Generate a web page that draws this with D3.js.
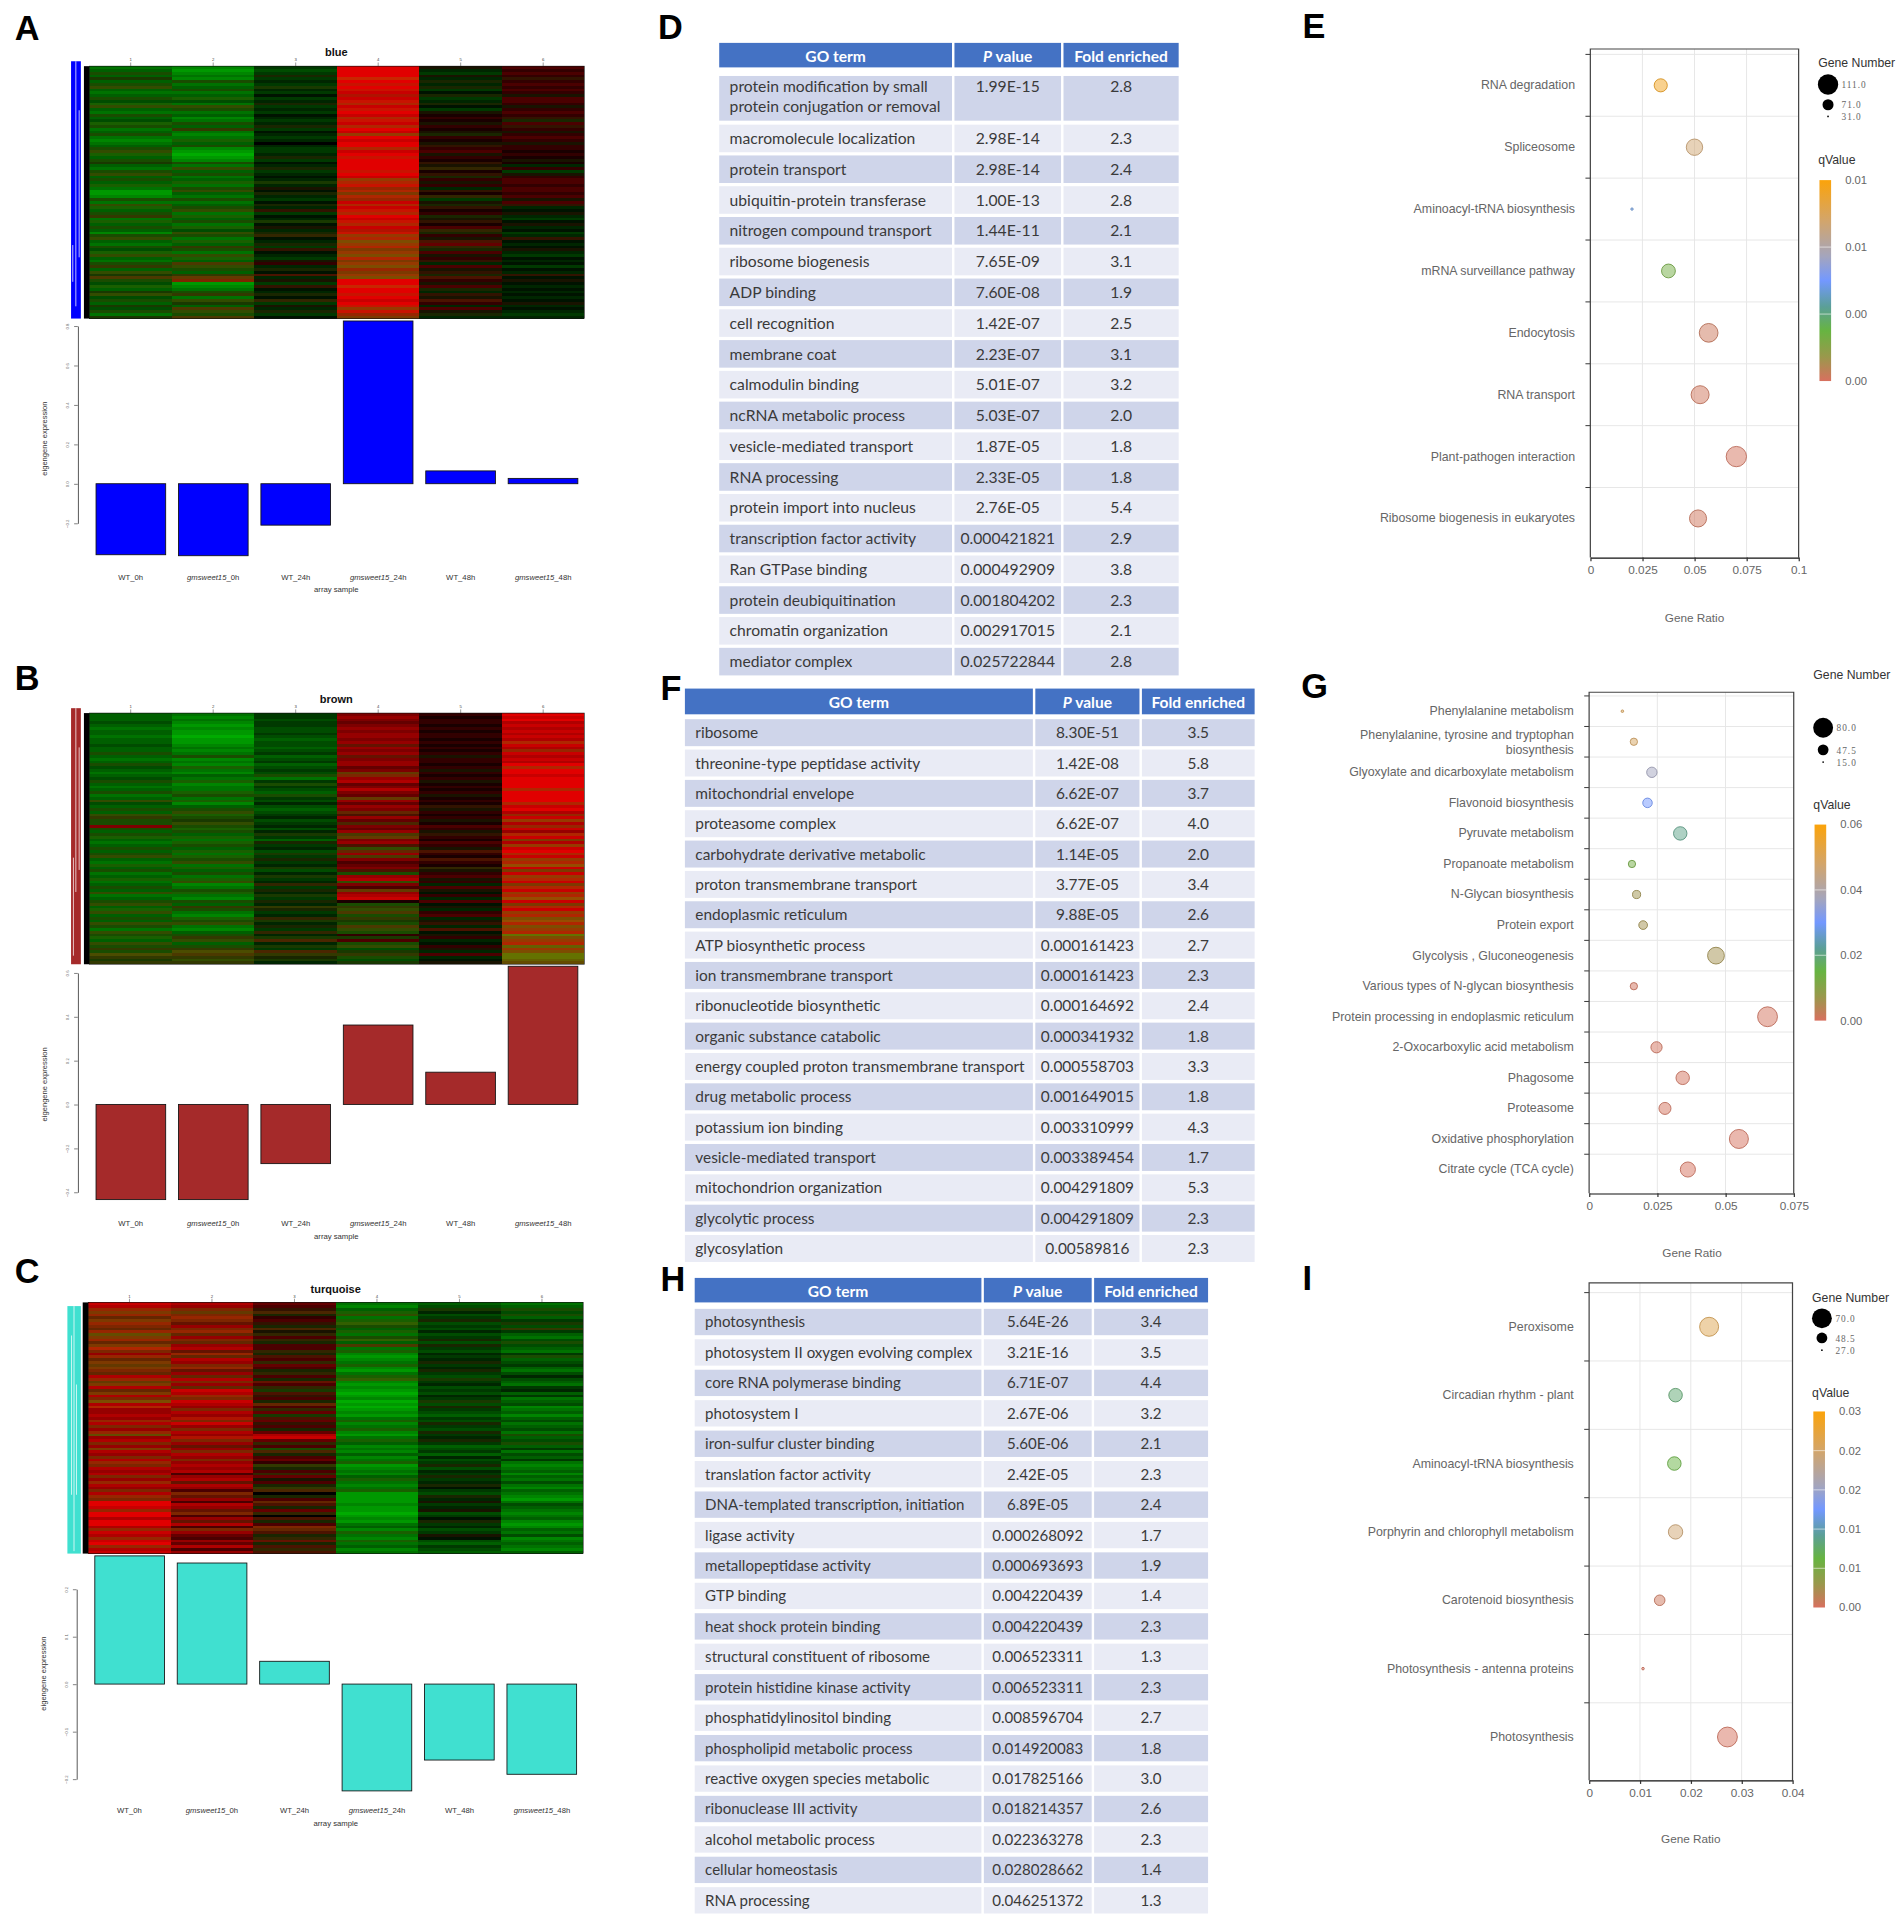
<!DOCTYPE html>
<html><head><meta charset="utf-8">
<script src="https://cdn.jsdelivr.net/npm/d3@7/dist/d3.min.js"></script>
<style>html,body{margin:0;padding:0;background:#fff}svg{display:block}</style></head>
<body><div id="c"></div>
<script>
const sampleLabels=["WT_0h","gmsweet15_0h","WT_24h","gmsweet15_24h","WT_48h","gmsweet15_48h"];
// Bars: module eigengene expression
const barsBlue=[-0.36,-0.365,-0.21,0.825,0.065,0.027];
const barsBrown=[-0.434,-0.434,-0.27,0.362,0.147,0.63];
const barsTurq=[0.27,0.255,0.048,-0.225,-0.16,-0.19];
// Heat stripes. Each number = (red level)*10 + (green level)
const heatBlue=[
[6,5,14,5,13,5,14,24,5,6,5,14,4,15,24,5,6,14,5,4,15,14,6,5,14,6,7,6,5,14,24,15,5,14,13,5,6,14,24,5,14,5,15,6,8,8,7,14,6,24,15,5,14,23,6,15,5,14,5,7,14,24,5,6,14,4,15,24,5,6,14,23,5,24,13,33,14,4,15,5,13,24,4,14,5,13,4,14,6,13],
[7,8,7,6,7,14,6,5,14,6,5,15,4,6,24,14,6,5,7,6,14,5,23,6,7,6,15,5,14,7,8,9,8,7,14,6,24,5,14,6,5,15,6,14,24,5,6,14,6,5,14,24,6,15,5,14,6,15,4,24,14,6,15,5,23,14,6,24,15,5,33,24,14,5,23,43,52,8,7,6,14,23,6,24,13,5,33,24,14,33],
[3,4,3,12,3,2,3,13,2,3,1,3,2,12,3,2,3,1,2,3,2,12,3,1,2,3,2,0,2,3,3,2,12,3,1,2,12,3,2,1,2,13,2,11,1,12,2,3,1,12,2,21,3,1,2,13,1,11,2,12,22,1,2,12,3,21,1,2,3,11,20,2,12,1,31,2,11,3,21,1,2,12,1,22,3,11,2,12,3,1],
[90,90,90,90,82,90,81,90,81,80,71,80,81,72,80,81,90,80,72,81,80,72,90,80,63,90,80,90,90,72,80,90,81,90,90,90,90,81,90,80,63,72,81,62,72,53,72,62,80,72,80,81,72,90,80,81,72,80,71,81,63,72,54,63,72,53,63,54,72,53,63,54,62,53,63,54,90,90,82,90,90,81,90,80,90,81,63,81,62,53],
[11,2,3,11,2,12,2,12,3,1,12,3,2,12,1,3,11,10,20,10,11,20,10,11,12,20,10,11,21,20,30,11,20,10,21,11,22,10,21,12,20,11,20,2,21,10,22,3,11,12,21,10,20,12,11,21,10,30,22,12,20,11,31,40,22,12,30,11,20,21,2,30,11,21,12,31,20,11,30,12,2,21,11,31,20,2,30,11,12,2],
[30,20,30,20,21,20,30,20,30,20,11,30,30,20,11,20,30,20,21,12,30,21,20,11,20,30,20,11,20,20,10,20,10,11,10,2,20,3,11,20,30,30,20,30,30,20,30,11,30,21,2,1,11,2,3,1,11,2,1,3,2,21,1,2,1,11,2,3,1,2,1,3,1,2,21,1,11,1,2,1,2,1,2,1,11,2,1,2,3,2]];
const heatBrown=[
[5,5,5,4,5,6,5,5,6,5,5,4,5,5,14,5,6,5,14,4,5,6,5,4,14,5,6,5,14,6,5,24,4,5,14,5,24,23,14,14,50,14,5,14,15,5,6,5,14,5,14,24,5,6,15,5,14,6,5,15,6,5,14,5,24,6,5,14,24,5,15,24,5,14,5,24,14,6,24,14,15,5,24,14,23,14,34,23,13,23],
[6,7,6,7,8,7,8,8,9,8,8,7,6,7,6,14,7,6,7,15,6,7,5,6,15,7,6,6,15,14,6,15,7,5,14,24,15,14,13,24,14,15,14,5,15,6,15,14,5,15,6,15,14,24,6,15,5,14,6,15,24,7,6,14,15,6,7,14,5,23,14,6,7,15,14,24,6,7,5,14,23,24,5,14,23,34,33,23,24,23],
[3,3,4,3,3,4,4,3,4,5,4,4,5,4,3,5,4,3,5,4,3,4,14,6,3,14,3,4,5,14,3,4,2,4,5,4,3,2,4,3,2,4,2,13,3,5,12,3,2,4,13,3,12,3,2,13,4,2,13,3,2,22,3,12,2,13,3,12,2,23,12,3,2,22,13,2,12,3,22,2,13,32,2,13,3,32,23,12,13,2],
[50,60,50,40,50,60,50,60,60,50,60,41,60,50,60,41,50,60,60,40,50,43,52,60,70,40,50,70,50,40,43,60,40,60,50,42,31,60,40,32,50,40,60,33,43,50,60,31,24,42,60,33,50,30,40,50,31,14,60,70,24,50,30,43,60,70,80,10,14,23,24,33,14,23,13,14,33,24,14,20,13,30,14,24,4,13,23,14,4,13],
[20,10,20,20,10,20,10,20,20,10,20,10,20,10,20,11,20,20,10,20,11,20,10,20,11,10,20,10,20,11,10,20,10,21,11,20,10,20,11,10,30,20,11,21,20,10,30,20,11,31,20,10,31,20,10,22,11,20,30,11,20,2,30,11,1,20,2,30,1,11,2,20,30,2,11,21,2,31,1,11,20,2,1,20,11,2,30,2,1,11],
[90,80,90,70,80,70,80,70,80,70,72,80,70,62,80,70,80,70,90,72,90,90,80,90,90,90,90,72,90,90,90,90,72,80,90,70,62,80,63,70,62,80,60,72,80,53,70,63,80,90,72,80,63,72,64,80,53,80,63,72,80,53,72,80,63,72,64,80,53,72,80,63,72,54,64,72,54,63,72,46,54,63,72,45,63,54,46,46,45,44]];
const heatTurq=[
[80,70,62,53,62,42,53,62,52,42,62,44,53,62,42,53,72,52,60,62,42,53,43,53,52,42,70,62,43,53,70,42,53,70,52,54,70,72,60,60,70,60,62,70,52,60,62,44,60,70,52,60,53,70,60,52,70,62,52,70,60,70,52,60,62,70,60,52,70,62,52,90,90,80,62,90,90,70,90,90,70,62,80,70,62,80,90,62,70,80],
[70,60,52,43,52,62,52,41,60,52,62,42,60,52,42,60,70,41,62,42,70,60,52,62,41,60,42,70,52,60,42,80,70,62,52,80,70,60,52,70,60,71,52,80,60,52,70,60,71,52,60,41,60,52,70,60,52,60,70,60,70,30,60,70,41,70,60,30,52,41,60,30,70,60,41,52,30,60,41,70,30,52,60,40,30,60,40,70,30,60],
[40,30,21,32,12,20,30,21,12,32,11,22,30,22,12,30,30,22,12,31,30,22,40,30,12,22,30,12,41,30,22,13,31,21,30,12,42,30,22,40,13,31,40,21,30,12,40,70,80,40,22,30,14,32,12,30,40,20,23,12,30,22,40,11,30,12,23,32,0,12,30,42,31,12,40,22,0,31,12,30,52,42,31,12,22,41,12,31,22,31],
[6,7,5,15,24,6,15,25,14,5,15,6,14,25,5,33,6,15,7,8,7,6,15,7,8,6,15,25,7,8,7,8,9,8,7,9,8,9,8,7,8,6,15,7,6,15,7,8,6,15,5,7,6,7,5,7,6,15,8,7,6,7,5,15,6,7,6,15,8,8,8,8,7,8,8,9,8,7,8,6,5,7,15,6,7,15,6,5,7,6],
[5,4,13,2,4,3,12,4,3,4,2,4,3,12,4,12,3,4,2,3,2,12,3,2,12,3,4,13,3,2,4,3,4,2,3,13,4,12,3,4,5,3,4,12,3,4,12,3,2,12,3,5,4,3,5,2,4,3,12,4,2,3,12,3,2,12,1,3,4,12,2,11,3,2,11,4,3,1,12,3,2,4,3,11,1,4,5,3,4,5],
[6,5,14,4,14,5,3,13,4,23,3,5,6,4,14,4,5,6,3,14,5,4,3,5,6,4,2,4,5,6,3,2,5,3,6,5,4,7,6,5,7,5,4,6,5,4,6,14,5,4,14,5,3,6,4,5,3,6,7,6,5,7,5,6,4,6,7,5,6,7,8,6,4,5,6,7,6,5,7,8,7,5,6,4,7,6,5,6,7,5]];
// GO tables
const termsD=["protein modification by small\nprotein conjugation or removal","macromolecule localization","protein transport","ubiquitin-protein transferase","nitrogen compound transport","ribosome biogenesis","ADP binding","cell recognition","membrane coat","calmodulin binding","ncRNA metabolic process","vesicle-mediated transport","RNA processing","protein import into nucleus","transcription factor activity","Ran GTPase binding","protein deubiquitination","chromatin organization","mediator complex"];
const pvalD=["1.99E-15","2.98E-14","2.98E-14","1.00E-13","1.44E-11","7.65E-09","7.60E-08","1.42E-07","2.23E-07","5.01E-07","5.03E-07","1.87E-05","2.33E-05","2.76E-05","0.000421821","0.000492909","0.001804202","0.002917015","0.025722844"];
const foldD=["2.8","2.3","2.4","2.8","2.1","3.1","1.9","2.5","3.1","3.2","2.0","1.8","1.8","5.4","2.9","3.8","2.3","2.1","2.8"];
const termsF=["ribosome","threonine-type peptidase activity","mitochondrial envelope","proteasome complex","carbohydrate derivative metabolic","proton transmembrane transport","endoplasmic reticulum","ATP biosynthetic process","ion transmembrane transport","ribonucleotide biosynthetic","organic substance catabolic","energy coupled proton transmembrane transport","drug metabolic process","potassium ion binding","vesicle-mediated transport","mitochondrion organization","glycolytic process","glycosylation"];
const pvalF=["8.30E-51","1.42E-08","6.62E-07","6.62E-07","1.14E-05","3.77E-05","9.88E-05","0.000161423","0.000161423","0.000164692","0.000341932","0.000558703","0.001649015","0.003310999","0.003389454","0.004291809","0.004291809","0.00589816"];
const foldF=["3.5","5.8","3.7","4.0","2.0","3.4","2.6","2.7","2.3","2.4","1.8","3.3","1.8","4.3","1.7","5.3","2.3","2.3"];
const termsH=["photosynthesis","photosystem II oxygen evolving complex","core RNA polymerase binding","photosystem I","iron-sulfur cluster binding","translation factor activity","DNA-templated transcription, initiation","ligase activity","metallopeptidase activity","GTP binding","heat shock protein binding","structural constituent of ribosome","protein histidine kinase activity","phosphatidylinositol binding","phospholipid metabolic process","reactive oxygen species metabolic","ribonuclease III activity","alcohol metabolic process","cellular homeostasis","RNA processing"];
const pvalH=["5.64E-26","3.21E-16","6.71E-07","2.67E-06","5.60E-06","2.42E-05","6.89E-05","0.000268092","0.000693693","0.004220439","0.004220439","0.006523311","0.006523311","0.008596704","0.014920083","0.017825166","0.018214357","0.022363278","0.028028662","0.046251372"];
const foldH=["3.4","3.5","4.4","3.2","2.1","2.3","2.4","1.7","1.9","1.4","2.3","1.3","2.3","2.7","1.8","3.0","2.6","2.3","1.4","1.3"];
// Bubble plots
const pathE=["RNA degradation","Spliceosome","Aminoacyl-tRNA biosynthesis","mRNA surveillance pathway","Endocytosis","RNA transport","Plant-pathogen interaction","Ribosome biogenesis in eukaryotes"];
const ratioE=[0.0338,0.05,0.02,0.0375,0.0568,0.0527,0.0701,0.0517];
const genesE=[80,94,34,83,104,101,111,97];
const qE=[0.0115,0.0094,0.0055,0.0026,0.0003,0.0002,0.0001,0.0002];
const pathG=["Phenylalanine metabolism","Phenylalanine, tyrosine and tryptophan\nbiosynthesis","Glyoxylate and dicarboxylate metabolism","Flavonoid biosynthesis","Pyruvate metabolism","Propanoate metabolism","N-Glycan biosynthesis","Protein export","Glycolysis , Gluconeogenesis","Various types of N-glycan biosynthesis","Protein processing in endoplasmic reticulum","2-Oxocarboxylic acid metabolism","Phagosome","Proteasome","Oxidative phosphorylation","Citrate cycle (TCA cycle)"];
const ratioG=[0.0122,0.0164,0.023,0.0214,0.0334,0.0157,0.0174,0.0198,0.0465,0.0164,0.0654,0.0247,0.0343,0.0278,0.0549,0.0362];
const genesG=[18,35,46,43,57,35,38,40,69,35,80,49,57,52,77,63];
const qG=[0.05,0.049,0.037,0.03,0.021,0.013,0.0065,0.006,0.006,0.0008,0.0005,0.0006,0.0005,0.0005,0.0004,0.0004];
const pathI=["Peroxisome","Circadian rhythm - plant","Aminoacyl-tRNA biosynthesis","Porphyrin and chlorophyll metabolism","Carotenoid biosynthesis","Photosynthesis - antenna proteins","Photosynthesis"];
const ratioI=[0.0236,0.017,0.01676,0.017,0.01388,0.0106,0.0272];
const genesI=[68,55,55,57,48,29,70];
const qI=[0.0255,0.0095,0.0075,0.0235,0.0006,0.0002,0.0002];
const panelLetters=["A","B","C","D","E","F","G","H","I"];

const K=1904/1554;
const svg=d3.select("#c").append("svg").attr("width",1904).attr("height",1921);
const root=svg.append("g").attr("transform",`scale(${K})`);
const SANS="'Liberation Sans',Arial,sans-serif";

// panel letters
const letterPos=[[12,33],[12,563],[12,1047],[537,32],[1063,31],[539,571],[1062,570],[539,1054],[1063,1053]];
root.selectAll("text.letter").data(panelLetters).join("text").attr("class","letter")
 .attr("x",(d,i)=>letterPos[i][0]).attr("y",(d,i)=>letterPos[i][1])
 .attr("font-family",SANS).attr("font-weight",700).attr("font-size",28).attr("fill","#000").text(d=>d);

function heatColor(code){const r=Math.floor(code/10),g=code%10;return d3.rgb(r*25,g*19,0).formatHex();}

function moduleFigure(o){
 const g=root.append("g");
 const x=d3.scaleBand().domain(d3.range(6)).range([o.hx0,o.hx1]);
 // dendrogram strip
 g.append("rect").attr("x",o.dx0).attr("y",o.dy0).attr("width",o.dx1-o.dx0).attr("height",o.hy1-o.dy0).attr("fill",o.color);
 o.slits.forEach(s=>g.append("rect").attr("x",s[0]).attr("y",s[1]).attr("width",0.8).attr("height",s[2]).attr("fill","#fff").attr("opacity",.75));
 // black strip
 g.append("rect").attr("x",o.hx0-4.5).attr("y",o.hy0).attr("width",4.5).attr("height",o.hy1-o.hy0).attr("fill","#000");
 // heat
 o.heat.forEach((col,c)=>{
  const y=d3.scaleBand().domain(d3.range(col.length)).range([o.hy0,o.hy1]);
  g.append("g").selectAll("rect").data(col).join("rect")
   .attr("x",x(c)).attr("width",x.bandwidth()).attr("y",(d,i)=>y(i)).attr("height",y.bandwidth()+.2)
   .attr("fill",heatColor).attr("shape-rendering","crispEdges");
 });
 g.append("rect").attr("x",o.hx0).attr("y",o.hy0).attr("width",o.hx1-o.hx0).attr("height",o.hy1-o.hy0).attr("fill","none").attr("stroke","#111").attr("stroke-width",.5);
 // top axis
 const topX=d3.axisTop(x).tickSize(3).tickPadding(1).tickFormat(i=>i+1);
 const ta=g.append("g").attr("transform",`translate(0,${o.hy0})`).call(topX);
 ta.select(".domain").remove();
 ta.selectAll("line").attr("stroke","#333").attr("stroke-width",.4);
 ta.selectAll("text").attr("font-size",3.5).attr("font-family",SANS).attr("fill","#444");
 g.append("text").attr("x",o.tx).attr("y",o.hy0-8).attr("text-anchor","middle").attr("font-family",SANS).attr("font-weight",700).attr("font-size",9).attr("fill","#111").text(o.title);
 // bars
 const bx=d3.scaleBand().domain(d3.range(6)).range([o.hx0,o.hx1]).paddingInner(0.155).paddingOuter(0.08);
 const by=d3.scaleLinear().domain(o.yDomain).range(o.yRange);
 g.append("g").selectAll("rect").data(o.bars).join("rect")
  .attr("x",(d,i)=>bx(i)).attr("width",bx.bandwidth())
  .attr("y",d=>by(Math.max(0,d))).attr("height",d=>Math.abs(by(d)-by(0)))
  .attr("fill",o.color).attr("stroke","#111").attr("stroke-width",.7);
 const ya=g.append("g").attr("transform",`translate(${o.hx0-9.5},0)`).call(d3.axisLeft(by).tickValues(o.yTicks).tickSize(3).tickPadding(6).tickSizeOuter(0).tickFormat(d3.format(".1f")));
 ya.select(".domain").attr("stroke","#555").attr("stroke-width",.8);
 ya.selectAll("line").attr("stroke","#333").attr("stroke-width",.5);
 ya.selectAll("text").attr("font-size",3.5).attr("font-family",SANS).attr("fill","#666").attr("text-anchor","middle").attr("transform","rotate(-90)").attr("x",0).attr("y",-7).attr("dy",0);
 g.append("text").attr("transform",`translate(${o.hx0-34.5},${o.yl}) rotate(-90)`).attr("text-anchor","middle").attr("font-family",SANS).attr("font-size",6.2).attr("fill","#333").text("eigengene expression");
 // sample labels
 sampleLabels.forEach((s,i)=>{
  const cx=x(i)+x.bandwidth()/2;
  const t=g.append("text").attr("x",cx).attr("y",o.ly).attr("text-anchor","middle").attr("font-family",SANS).attr("font-size",6.3).attr("fill","#333");
  if(s.startsWith("gm")){const p=s.split("_");t.append("tspan").attr("font-style","italic").text(p[0]);t.append("tspan").text("_"+p[1]);}
  else t.text(s);
 });
 g.append("text").attr("x",o.tx).attr("y",o.ly+10.5).attr("text-anchor","middle").attr("font-family",SANS).attr("font-size",6.3).attr("fill","#333").text("array sample");
}
moduleFigure({title:"blue",color:"#0000ff",heat:heatBlue,bars:barsBlue,hx0:73,hx1:477,hy0:54,hy1:260,dx0:58,dx1:66,dy0:50,tx:274.5,
 slits:[[61.5,50,200],[59,200,30],[64.2,90,120]],yDomain:[-0.2,0.8],yRange:[427,266],yTicks:[-0.2,0,0.2,0.4,0.6,0.8],ly:473,yl:358});
moduleFigure({title:"brown",color:"#a52a2a",heat:heatBrown,bars:barsBrown,hx0:73,hx1:477,hy0:582,hy1:787,dx0:58,dx1:66,dy0:578,tx:274.5,
 slits:[[61.5,578,150],[59.5,700,80],[64.2,610,100]],yDomain:[-0.4,0.6],yRange:[973,794],yTicks:[-0.4,-0.2,0,0.2,0.4,0.6],ly:1001,yl:885});
moduleFigure({title:"turquoise",color:"#40e0d0",heat:heatTurq,bars:barsTurq,hx0:72,hx1:476,hy0:1063,hy1:1268,dx0:55,dx1:66,dy0:1066,tx:274,
 slits:[[58,1090,130],[60,1066,200],[62,1130,90]],yDomain:[-0.2,0.2],yRange:[1452,1297],yTicks:[-0.2,-0.1,0,0.1,0.2],ly:1480,yl:1366});

// Tables
function goTable(o){
 const g=root.append("g");
 const n=o.terms.length;
 const cols=o.cols;
 g.selectAll("rect.h").data(cols).join("rect").attr("x",d=>d[0]).attr("width",d=>d[1]-d[0]).attr("y",o.hy0).attr("height",o.hy1-o.hy0).attr("fill","#4472c4");
 const heads=["GO term","P value","Fold enriched"];
 heads.forEach((h,i)=>{
  const t=g.append("text").attr("x",(cols[i][0]+cols[i][1])/2).attr("y",(o.hy0+o.hy1)/2+o.fs*.36+.8).attr("text-anchor","middle").attr("font-family","Lato,sans-serif").attr("font-weight",700).attr("font-size",12.7).attr("fill","#fff");
  if(i==1){t.append("tspan").attr("font-style","italic").text("P");t.append("tspan").text(" value");} else t.text(h);
 });
 const y=d3.scaleLinear().domain([o.first,n-1]).range([o.yc0,o.yc1]);
 const rowBox=i=>{
  if(i==0&&o.tall) return [o.tall[0],o.tall[1]];
  return [y(i)-o.rh/2,y(i)+o.rh/2];
 };
 o.terms.forEach((term,i)=>{
  const b=rowBox(i);
  const fill=i%2==0?"#cfd5ea":"#e9ebf5";
  cols.forEach(c=>g.append("rect").attr("x",c[0]).attr("width",c[1]-c[0]).attr("y",b[0]).attr("height",b[1]-b[0]).attr("fill",fill));
  const lines=term.split("\n");
  const base=(i==0&&o.tall)?b[0]+o.fs*1.05:(b[0]+b[1])/2+o.fs*.36;
  const tt=(txt,x,yy,anc)=>g.append("text").attr("x",x).attr("y",yy).attr("text-anchor",anc).attr("font-family","Lato,sans-serif").attr("font-size",o.fs).attr("fill","#3a3a3a").text(txt);
  lines.forEach((l,j)=>tt(l,cols[0][0]+8.5,base+j*16,"start"));
  tt(o.pvals[i],(cols[1][0]+cols[1][1])/2,base,"middle");
  tt(o.folds[i],(cols[2][0]+cols[2][1])/2,base,"middle");
 });
}
goTable({terms:termsD,pvals:pvalD,folds:foldD,cols:[[587,777],[779,866],[868,962]],hy0:35,hy1:55,first:1,yc0:113,yc1:540,rh:22.5,tall:[62,98.5],fs:12.8});
goTable({terms:termsF,pvals:pvalF,folds:foldF,cols:[[559,843],[845,930],[932,1024]],hy0:562,hy1:583,first:0,yc0:598,yc1:1019,rh:22,fs:12.6});
goTable({terms:termsH,pvals:pvalH,folds:foldH,cols:[[567,801],[803,891],[893,986]],hy0:1043,hy1:1063,first:0,yc0:1079,yc1:1551,rh:21.5,fs:12.3});

// Bubble plots
const qStops=[0,.12,.25,.37,.5,.62,.8,1];
const qColors=["#d8705f","#9a984c","#67b441","#5b9f98","#7398ff","#a4a5bd","#d3a56a","#fba30a"];
let gid=0;
function bubble(o){
 const g=root.append("g");
 const x=d3.scaleLinear().domain([0,o.xMax]).range([o.x0,o.x1]);
 const y=d3.scaleBand().domain(o.paths).range([o.b0,o.b1]);
 const r=d3.scaleLinear().domain(o.gDomain).range(o.rRange);
 const col=d3.scaleLinear().domain(qStops.map(t=>t*o.qMax)).range(qColors);
 // grid
 g.selectAll("line.v").data(o.xTicks.slice(1,-1)).join("line").attr("x1",x).attr("x2",x).attr("y1",o.y0).attr("y2",o.y1).attr("stroke","#e6e6e6").attr("stroke-width",.8);
 g.selectAll("line.h").data(o.paths).join("line").attr("x1",o.x0).attr("x2",o.x1).attr("y1",d=>y(d)).attr("y2",d=>y(d)).attr("stroke","#e6e6e6").attr("stroke-width",.8);
 g.selectAll("line.t").data(o.paths).join("line").attr("x1",o.x0-4).attr("x2",o.x0).attr("y1",d=>y(d)).attr("y2",d=>y(d)).attr("stroke","#333").attr("stroke-width",.8);
 // frame
 g.append("path").attr("d",`M${o.x0},${o.y1}V${o.y0}H${o.x1}V${o.y1}`).attr("fill","none").attr("stroke","#444").attr("stroke-width",1);
 // axes
 const xa=g.append("g").attr("transform",`translate(0,${o.y1})`).call(d3.axisBottom(x).tickValues(o.xTicks).tickFormat(d=>String(d)).tickSize(3).tickSizeOuter(0).tickPadding(3.5));
 xa.select(".domain").attr("stroke","#111").attr("stroke-width",.9);
 xa.selectAll("line").attr("stroke","#333");
 xa.selectAll("text").attr("font-family",SANS).attr("font-size",9.6).attr("fill","#666");
 const ya=g.append("g").attr("transform",`translate(${o.x0},0)`).call(d3.axisLeft(y).tickSize(0).tickPadding(12.5));
 ya.select(".domain").remove();
 ya.selectAll("text").attr("font-family",SANS).attr("font-size",10.1).attr("fill","#666").each(function(d){
  const parts=d.split("\n");
  if(parts.length>1){
   const t=d3.select(this);t.text(null);
   parts.forEach((p,i)=>t.append("tspan").attr("x",-12.5).attr("dy",i==0?"-0.25em":"1.25em").text(p));
  }
 });
 // dots
 g.append("g").selectAll("circle").data(o.paths).join("circle")
  .attr("cx",(d,i)=>x(o.ratio[i])).attr("cy",d=>y(d)+y.bandwidth()/2).attr("r",(d,i)=>r(o.genes[i]))
  .attr("fill",(d,i)=>col(o.q[i])).attr("fill-opacity",.5).attr("stroke",(d,i)=>d3.rgb(col(o.q[i])).darker(.4)).attr("stroke-width",.7);
 // x title
 g.append("text").attr("x",o.xt).attr("y",o.xty).attr("text-anchor","middle").attr("font-family",SANS).attr("font-size",9.6).attr("fill","#666").text("Gene Ratio");
 // size legend
 g.append("text").attr("x",o.lx).attr("y",o.ln).attr("font-family",SANS).attr("font-size",10).attr("fill","#333").text("Gene Number");
 o.legendGenes.forEach((v,i)=>{
  g.append("circle").attr("cx",o.lx+8).attr("cy",o.lc[i]).attr("r",r(o.legendSize[i])).attr("fill","#000");
  g.append("text").attr("x",o.lx+19).attr("y",o.lc[i]+3).attr("font-family","'Liberation Serif',serif").attr("font-size",7.6).attr("letter-spacing",.8).attr("fill","#666").text(v);
 });
 g.append("text").attr("x",o.lx).attr("y",o.lq).attr("font-family",SANS).attr("font-size",10).attr("fill","#333").text("qValue");
 // colour bar
 const id="qg"+(gid++);
 const grad=svg.append("defs").append("linearGradient").attr("id",id).attr("x1",0).attr("x2",0).attr("y1",1).attr("y2",0);
 qStops.forEach((t,i)=>grad.append("stop").attr("offset",t).attr("stop-color",qColors[i]));
 g.append("rect").attr("x",o.lx+1).attr("y",o.cb0).attr("width",9.5).attr("height",o.cb1-o.cb0).attr("fill",`url(#${id})`);
 const cy=d3.scaleLinear().domain([0,o.cLabels.length-1]).range([o.cb1,o.cb0]);
 o.cLabels.forEach((l,i)=>{
  g.append("text").attr("x",o.lx+22).attr("y",cy(i)+3.2).attr("font-family",SANS).attr("font-size",9.2).attr("fill","#666").text(l);
  if(i>0&&i<o.cLabels.length-1) g.append("line").attr("x1",o.lx+1).attr("x2",o.lx+10.5).attr("y1",cy(i)).attr("y2",cy(i)).attr("stroke","#fff").attr("stroke-width",.6).attr("opacity",.8);
 });
}
bubble({paths:pathE,ratio:ratioE,genes:genesE,q:qE,xMax:0.1,xTicks:[0,0.025,0.05,0.075,0.1],x0:1298,x1:1468,y0:40,y1:455,b0:44.4,b1:448.4,
 gDomain:[31,111],rRange:[.7,8.3],qMax:0.012,xt:1383,xty:508,lx:1484,ln:55,lc:[69,85.5,95],legendGenes:["111.0","71.0","31.0"],legendSize:[111,71,31],lq:134,cb0:147,cb1:311,cLabels:["0.00","0.00","0.01","0.01"]});
bubble({paths:pathG,ratio:ratioG,genes:genesG,q:qG,xMax:0.075,xTicks:[0,0.025,0.05,0.075],x0:1297,x1:1464,y0:565,y1:974,b0:568,b1:967,
 gDomain:[15,80],rRange:[.7,8.1],qMax:0.06,xt:1381,xty:1026,lx:1480,ln:554,lc:[594,612,622],legendGenes:["80.0","47.5","15.0"],legendSize:[80,47.5,15],lq:660,cb0:673,cb1:833,cLabels:["0.00","0.02","0.04","0.06"]});
bubble({paths:pathI,ratio:ratioI,genes:genesI,q:qI,xMax:0.04,xTicks:[0,0.01,0.02,0.03,0.04],x0:1297,x1:1463,y0:1047,y1:1453,b0:1055,b1:1445.6,
 gDomain:[27,70],rRange:[.7,8.1],qMax:0.03,xt:1380,xty:1504,lx:1479,ln:1063,lc:[1076,1092,1102],legendGenes:["70.0","48.5","27.0"],legendSize:[70,48.5,27],lq:1140,cb0:1152,cb1:1312,cLabels:["0.00","0.01","0.01","0.02","0.02","0.03"]});
</script></body></html>
